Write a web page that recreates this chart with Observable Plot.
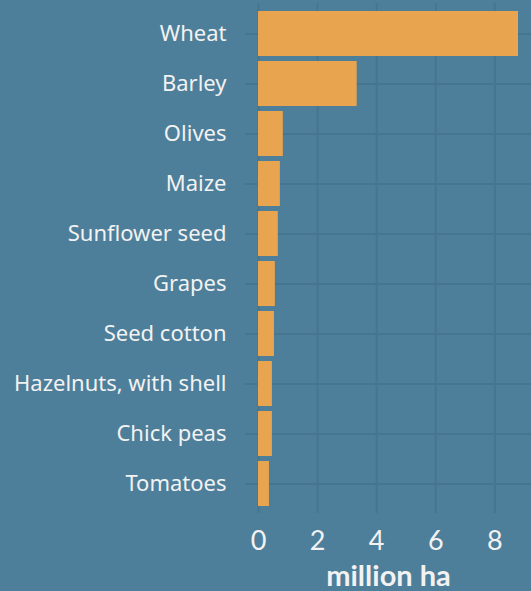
<!DOCTYPE html>
<html>
<head>
<meta charset="utf-8">
<script src="https://cdn.jsdelivr.net/npm/d3@7"></script>
<script src="https://cdn.jsdelivr.net/npm/@observablehq/plot@0.6"></script>
<style>
  html, body { margin: 0; padding: 0; background: #4e7f9a; }
  #chart svg { display: block; }
</style>
</head>
<body>
<div id="chart"></div>
<script>
const crops = ["Wheat", "Barley", "Olives", "Maize", "Sunflower seed", "Grapes", "Seed cotton", "Hazelnuts, with shell", "Chick peas", "Tomatoes"];
const areas = [8.80, 3.34, 0.84, 0.74, 0.67, 0.57, 0.54, 0.47, 0.47, 0.37];
const xTicks = [0, 2, 4, 6, 8];
const xLabel = "million ha";

const data = crops.map((c, i) => ({crop: c, area: areas[i]}));

const bg = "#4e7f9a";
const gridColor = "#46758f";
const barColor = "#e9a450";
const textColor = "#f2f2f2";
const font = "Lato, 'Noto Sans', sans-serif";

const chart = Plot.plot({
  width: 531,
  height: 591,
  marginLeft: 245,
  marginRight: 0,
  marginTop: 3,
  marginBottom: 78,
  style: {background: bg, fontFamily: font, color: textColor},
  x: {domain: [-0.44, 9.24], ticks: xTicks},
  y: {domain: crops, padding: 0.1, range: [6, 511]},
  marks: [
    Plot.gridX(xTicks, {stroke: gridColor, strokeOpacity: 1, strokeWidth: 2}),
    Plot.gridY(crops, {stroke: gridColor, strokeOpacity: 1, strokeWidth: 2}),
    Plot.barX(data, {x1: 0, x2: "area", y: "crop", fill: barColor}),
    Plot.axisX(xTicks, {tickSize: 0, tickPadding: 17, fontSize: 27, label: null, fill: textColor}),
    Plot.axisY({tickSize: 0, tickPadding: 19, fontSize: 22, fontFamily: "'Noto Sans', sans-serif", label: null, fill: textColor}),
    Plot.text([xLabel], {frameAnchor: "bottom", dy: 72, fontSize: 29, fontWeight: "bold", fill: textColor, text: d => d})
  ]
});
document.getElementById("chart").appendChild(chart);
</script>
</body>
</html>
